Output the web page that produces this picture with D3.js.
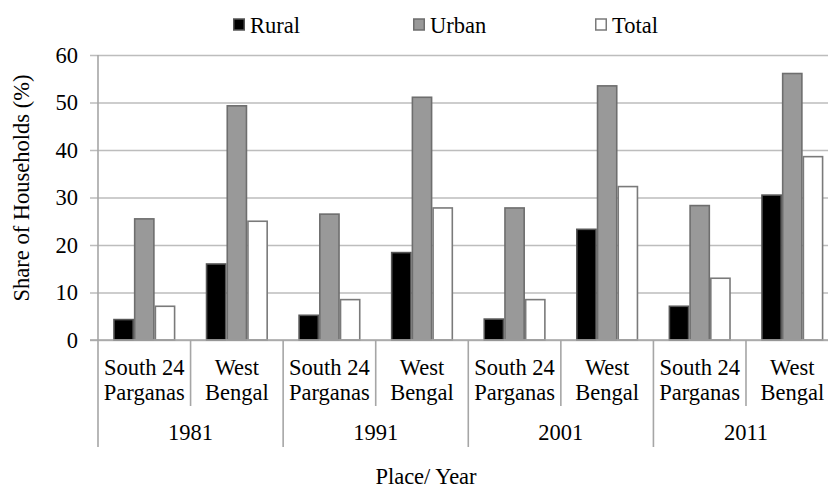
<!DOCTYPE html>
<html><head><meta charset="utf-8">
<script src="https://cdn.jsdelivr.net/npm/d3@7"></script>
<style>body{margin:0;background:#fff}svg{display:block}text{font-family:"Liberation Serif","DejaVu Serif","Times New Roman",serif;fill:#000}</style>
</head><body><svg id="c" width="828" height="490"></svg>
<script>
const years = ["1981","1991","2001","2011"];
const places = [["South 24","Parganas"],["West","Bengal"]];
const seriesNames = ["Rural","Urban","Total"];
const rural = [4.3,16.0,5.2,18.4,4.4,23.3,7.1,30.5];
const urban = [25.5,49.3,26.5,51.1,27.8,53.5,28.3,56.1];
const total = [7.1,25.0,8.5,27.8,8.5,32.3,13.0,38.6];
const yTicks = [0,10,20,30,40,50,60];

const svg = d3.select("#c");
const fills = {Rural:"#000000",Urban:"#999999",Total:"#ffffff"};
const strokes = {Rural:"#555555",Urban:"#6e6e6e",Total:"#7a7a7a"};
const L = 98, B = 340, T = 55, step = 92.57;
const FS = "22.5px";
const cats = d3.range(8);
const x0 = d3.scaleBand().domain(cats).range([L, L + step*8]).paddingInner(0).paddingOuter(0);
const x1 = d3.scaleBand().domain(seriesNames).range([0, x0.bandwidth()]).paddingInner(0).paddingOuter(0.735);
const y = d3.scaleLinear().domain([0,60]).range([B, T]);

// grid + y axis
const yAxis = d3.axisLeft(y).tickValues(yTicks).tickSize(-(828 - L + 10)).tickPadding(20).tickFormat(d3.format("d"));
const ga = svg.append("g").attr("transform",`translate(${L},0)`).call(yAxis);
ga.select(".domain").remove();
ga.attr("font-family", null);
ga.selectAll(".tick line").attr("x1",-8).attr("x2",840-L).attr("stroke","#bdbdbd").attr("stroke-width",1.6);
ga.selectAll(".tick text").style("font-size",FS).attr("fill","#000");
svg.append("line").attr("x1",L).attr("x2",L).attr("y1",T).attr("y2",B).attr("stroke","#a6a6a6").attr("stroke-width",1.6);

// bars
const data = cats.map(i => ({i, Rural:rural[i], Urban:urban[i], Total:total[i]}));
const g = svg.append("g");
data.forEach(d => {
  seriesNames.forEach(s => {
    g.append("rect")
      .attr("x", x0(d.i) + x1(s) + 0.75)
      .attr("width", x1.bandwidth() - 1.5)
      .attr("y", y(d[s]))
      .attr("height", B - y(d[s]))
      .attr("fill", fills[s]).attr("stroke", strokes[s]).attr("stroke-width", 1.6);
  });
});
// x axis line
svg.append("line").attr("x1",L-8).attr("x2",840).attr("y1",B).attr("y2",B).attr("stroke","#a6a6a6").attr("stroke-width",1.6);

// category separators
d3.range(9).forEach(k => {
  const xx = L + k*x0.step();
  svg.append("line").attr("x1",xx).attr("x2",xx).attr("y1",B).attr("y2", k%2===0 ? 447 : 406)
    .attr("stroke","#a6a6a6").attr("stroke-width",1.6);
});
// category labels
cats.forEach(i => {
  const p = places[i%2];
  const cx = x0(i) + x0.bandwidth()/2;
  p.forEach((line,j) => {
    svg.append("text").attr("x",cx).attr("y",375 + j*25).attr("text-anchor","middle").style("font-size",FS).text(line);
  });
});
years.forEach((yr,k) => {
  const cx = L + (2*k+1)*x0.step();
  svg.append("text").attr("x",cx).attr("y",440).attr("text-anchor","middle").style("font-size",FS).text(yr);
});

// titles
svg.append("text").attr("transform","translate(29,188) rotate(-90)").attr("text-anchor","middle").style("font-size",FS).text("Share of Households (%)");
svg.append("text").attr("x",426).attr("y",484).attr("text-anchor","middle").style("font-size",FS).text("Place/ Year");

// legend
const legX = [233, 413, 595];
seriesNames.forEach((s,k) => {
  svg.append("rect").attr("x",legX[k]+0.75).attr("y",19).attr("width",10.5).attr("height",11)
    .attr("fill",fills[s]).attr("stroke",strokes[s]).attr("stroke-width",1.5);
  svg.append("text").attr("x",legX[k]+17).attr("y",33).style("font-size",FS).text(s);
});
</script></body></html>
